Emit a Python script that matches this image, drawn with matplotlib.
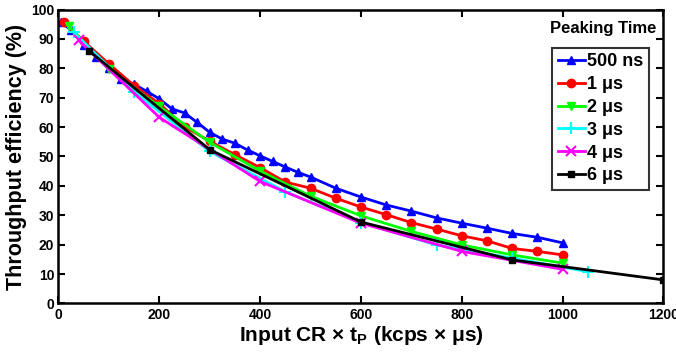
import numpy as np
import matplotlib
matplotlib.use("Agg")
import matplotlib.pyplot as plt

plt.rcParams['font.family'] = ['Liberation Sans', 'DejaVu Sans']
plt.rcParams['font.weight'] = 'bold'
plt.rcParams['mathtext.fontset'] = 'custom'
plt.rcParams['mathtext.rm'] = 'Liberation Sans:bold'
plt.rcParams['mathtext.bf'] = 'Liberation Sans:bold'
#----------------------------------------------------------------------------------------

# peaking time series, x = input CR x tP (kcps x us), y = throughput efficiency (%)
x_500ns = [5, 25, 50, 75, 100, 125, 150, 175, 200, 225, 250, 275, 300, 325, 350, 375,
           400, 425, 450, 475, 500, 550, 600, 650, 700, 750, 800, 850, 900, 950, 1000]
y_500ns = [95.7, 93.0, 88.0, 84.0, 80.0, 76.5, 74.5, 72.2, 69.6, 66.2, 64.8, 61.6, 58.2, 55.9,
           54.5, 52.2, 50.2, 48.3, 46.4, 44.6, 43.0, 39.2, 36.2, 33.5, 31.4, 29.1, 27.3, 25.6,
           23.8, 22.5, 20.6]

x_1us = [10, 50, 100, 150, 200, 250, 300, 350, 400, 450, 500, 550, 600, 650, 700, 750,
         800, 850, 900, 950, 1000]
y_1us = [95.7, 89.2, 81.5, 74.1, 68.0, 60.1, 55.2, 50.6, 46.2, 41.3, 39.2, 35.8, 32.8, 30.2,
         27.5, 25.3, 23.0, 21.3, 18.7, 17.7, 16.5]

x_2us = [20, 100, 200, 300, 400, 500, 600, 700, 800, 900, 1000]
y_2us = [94.5, 79.6, 67.0, 54.8, 45.0, 36.5, 29.8, 24.5, 19.9, 16.5, 13.7]

x_3us = [30, 150, 300, 450, 600, 750, 900, 1050]
y_3us = [92.3, 72.0, 51.7, 38.0, 27.5, 19.9, 15.4, 10.8]

x_4us = [40, 200, 400, 600, 800, 1000]
y_4us = [89.5, 63.3, 41.5, 27.3, 17.7, 11.6]

x_6us = [60, 300, 600, 900, 1200]
y_6us = [86.0, 52.3, 27.7, 14.8, 8.0]

labels = ['500 ns', '1 μs', '2 μs', '3 μs', '4 μs', '6 μs']

fig = plt.figure(figsize=(6.76, 3.52), dpi=100)
ax = fig.add_axes([0.0865, 0.138, 0.895, 0.835])

ax.plot(x_500ns, y_500ns, '-^', color='#0000ff', lw=2, ms=6, label=labels[0])
ax.plot(x_1us, y_1us, '-o', color='#ff0000', lw=2, ms=6, label=labels[1])
ax.plot(x_2us, y_2us, '-v', color='#00ff00', lw=2, ms=6, label=labels[2])
ax.plot(x_3us, y_3us, '-+', color='#00ffff', lw=2, ms=8, mew=1.5, label=labels[3])
ax.plot(x_4us, y_4us, '-x', color='#ff00ff', lw=2, ms=7, mew=1.5, label=labels[4])
ax.plot(x_6us, y_6us, '-s', color='#000000', lw=2, ms=5, label=labels[5])

ax.set_xlim(0, 1200)
ax.set_ylim(0, 100)
ax.set_xticks(np.arange(0, 1201, 200))
ax.set_yticks(np.arange(0, 101, 10))
ax.tick_params(direction='in', top=True, right=True, length=5, width=1.5,
               labelsize=10, pad=3)
for s in ax.spines.values():
    s.set_linewidth(1.8)

ax.set_xlabel('Input CR × t$_\\mathregular{P}$ (kcps × μs)', fontsize=15, fontweight='bold', labelpad=2)
ax.set_ylabel('Throughput efficiency (%)', fontsize=15.5, fontweight='bold', labelpad=3)

leg = ax.legend(loc='upper right', bbox_to_anchor=(0.976, 0.869), borderaxespad=0, fontsize=13,
                frameon=True, fancybox=False, edgecolor='black', handlelength=1.5,
                handletextpad=0.15, labelspacing=0.32, borderpad=0.3, numpoints=1)
leg.get_frame().set_linewidth(1.5)
ax.text(0.9, 0.935, 'Peaking Time', transform=ax.transAxes, ha='center', va='center',
        fontsize=12, fontweight='bold')

plt.savefig('out.png', dpi=100)
